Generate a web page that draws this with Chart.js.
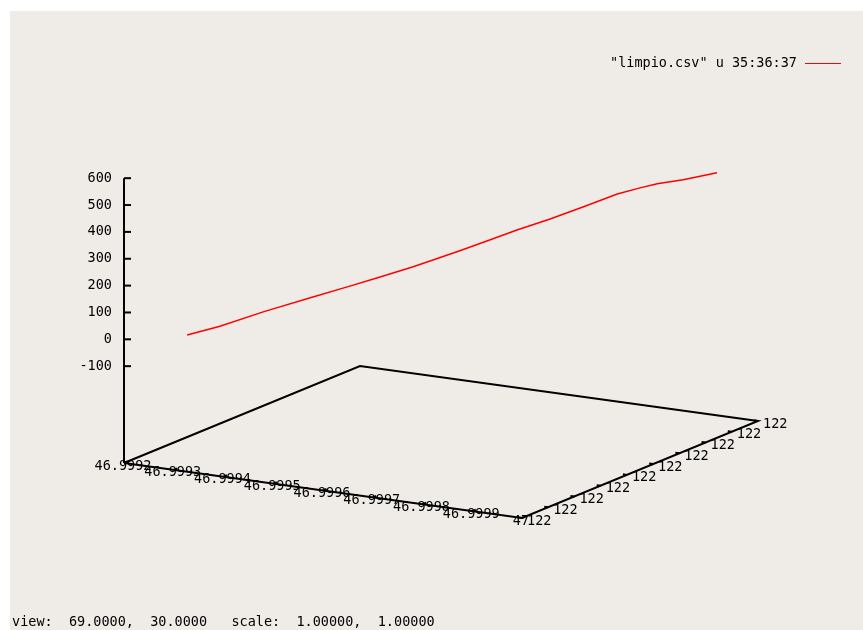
<!DOCTYPE html>
<html>
<head>
<meta charset="utf-8">
<script src="https://cdn.jsdelivr.net/npm/chart.js@4"></script>
<style>
  html, body { margin: 0; padding: 0; background: #ffffff; }
  #wrap { position: relative; width: 863px; height: 630px; }
</style>
</head>
<body>
<div id="wrap"><canvas id="trackChart"></canvas></div>
<script>
// track (columns 35:36:37 of limpio.csv)
const latitudes = [46.9992015, 46.9992511, 46.9993158, 46.9993910, 46.9994422, 46.9994918, 46.9995415, 46.9996106,
    46.9996543, 46.9996979, 46.9997476, 46.9997972, 46.9998484, 46.9998830, 46.9999086, 46.9999477, 46.9999988];
const longitudes = [121.9999838, 121.9999869, 121.9999911, 121.9999958, 121.9999992, 122.0000023, 122.0000055,
    122.0000099, 122.0000127, 122.0000154, 122.0000186, 122.0000217, 122.0000251, 122.0000272, 122.0000289,
    122.0000314, 122.0000346];
const altitudes = [-79, -46, 7, 63, 100, 137, 175, 234, 273, 312, 353, 398, 446, 469, 484, 499, 525];

// tick values
const latTicks = [46.9992, 46.9993, 46.9994, 46.9995, 46.9996, 46.9997, 46.9998, 46.9999, 47.0000];
const lonTicks = [121.99996, 121.99997, 121.99998, 121.99999, 122.00000, 122.00001, 122.00002, 122.00003, 122.00004, 122.00005];
const altTicks = [-100, 0, 100, 200, 300, 400, 500, 600];

const legendLabel = '"limpio.csv" u 35:36:37';
const statusLabel = 'view:  69.0000,  30.0000   scale:  1.00000,  1.00000';

// simple parallel projection for view 69,30
const view = { ox: 124, oy: 463, ex: [398, 55], ey: [236, -97], zHeight: 188, ticslevel: 0.515 };
const latRange = [latTicks[0], latTicks[latTicks.length - 1]];
const lonRange = [lonTicks[0], lonTicks[lonTicks.length - 1]];
const altRange = [altTicks[0], altTicks[altTicks.length - 1]];
const altBase = altRange[0] - view.ticslevel * (altRange[1] - altRange[0]);

const project = (lat, lon, alt) => {
    const u = (lat - latRange[0]) / (latRange[1] - latRange[0]);
    const v = (lon - lonRange[0]) / (lonRange[1] - lonRange[0]);
    const w = (alt - altBase) / (altRange[1] - altRange[0]);
    return {
        x: view.ox + u * view.ex[0] + v * view.ey[0],
        y: view.oy + u * view.ex[1] + v * view.ey[1] - w * view.zHeight
    };
};

const fmtG = (v) => String(Number(v.toPrecision(6)));

const trackPoints = latitudes.map((lat, i) => project(lat, longitudes[i], altitudes[i]));
const basePoints = [
    project(latRange[0], lonRange[0], altBase),
    project(latRange[1], lonRange[0], altBase),
    project(latRange[1], lonRange[1], altBase),
    project(latRange[0], lonRange[1], altBase),
    project(latRange[0], lonRange[0], altBase)
];
const zAxisPoints = [
    project(latRange[0], lonRange[0], altBase),
    project(latRange[0], lonRange[0], altRange[1])
];

const FONT = '13.5px "DejaVu Sans Mono", monospace';

const gnuplotDecor = {
    id: 'gnuplotDecor',
    beforeDraw(chart) {
        const ctx = chart.ctx;
        ctx.save();
        ctx.fillStyle = '#ffffff';
        ctx.fillRect(0, 0, chart.width, chart.height);
        ctx.fillStyle = '#efece8';
        ctx.fillRect(10, 11, chart.width - 10, chart.height - 11);
        ctx.restore();
    },
    afterDatasetsDraw(chart) {
        const ctx = chart.ctx;
        const sx = chart.scales.x, sy = chart.scales.y;
        const px = (p) => ({ x: sx.getPixelForValue(p.x), y: sy.getPixelForValue(p.y) });
        const seg = (a, b) => {
            ctx.beginPath();
            ctx.moveTo(a.x, a.y);
            ctx.lineTo(b.x, b.y);
            ctx.stroke();
        };
        ctx.save();
        ctx.strokeStyle = '#000000';
        ctx.fillStyle = '#000000';
        ctx.lineWidth = 2;
        ctx.font = FONT;

        // latitude tics along front-left edge
        const lonTicLen = 0.015 * (lonRange[1] - lonRange[0]);
        ctx.textAlign = 'center';
        ctx.textBaseline = 'middle';
        latTicks.forEach(t => {
            const a = px(project(t, lonRange[0], altBase));
            const b = px(project(t, lonRange[0] + lonTicLen, altBase));
            seg(a, b);
            ctx.fillText(fmtG(t), a.x - 1, a.y + 3);
        });

        // longitude tics along front-right edge
        const latTicLen = 0.01 * (latRange[1] - latRange[0]);
        ctx.textAlign = 'left';
        lonTicks.forEach(t => {
            const a = px(project(latRange[1], t, altBase));
            const b = px(project(latRange[1] - latTicLen, t, altBase));
            seg(a, b);
            ctx.fillText(fmtG(t), a.x + 5, a.y + 3);
        });

        // altitude tics
        ctx.textAlign = 'right';
        altTicks.forEach(t => {
            const a = px(project(latRange[0], lonRange[0], t));
            seg(a, { x: a.x + 7, y: a.y });
            ctx.fillText(fmtG(t), a.x - 12, a.y);
        });

        // key
        ctx.textAlign = 'right';
        ctx.fillText(legendLabel, 797, 63);
        ctx.strokeStyle = '#ff0000';
        ctx.lineWidth = 1;
        seg({ x: 805, y: 63.5 }, { x: 841, y: 63.5 });

        // status line
        ctx.textAlign = 'left';
        ctx.fillText(statusLabel, 12, 622);
        ctx.restore();
    }
};

const ctxTrack = document.getElementById('trackChart').getContext('2d');
const trackChart = new Chart(ctxTrack, {
    type: 'scatter',
    data: {
        datasets: [{
            label: legendLabel,
            data: trackPoints,
            showLine: true,
            borderColor: '#ff0000',
            borderWidth: 1.5,
            pointRadius: 0,
            tension: 0
        }, {
            label: 'base',
            data: basePoints,
            showLine: true,
            borderColor: '#000000',
            borderWidth: 2,
            pointRadius: 0
        }, {
            label: 'zaxis',
            data: zAxisPoints,
            showLine: true,
            borderColor: '#000000',
            borderWidth: 2,
            pointRadius: 0
        }]
    },
    options: {
        responsive: true,
        maintainAspectRatio: false,
        animation: false,
        events: [],
        layout: { padding: 0 },
        plugins: {
            legend: { display: false },
            tooltip: { enabled: false }
        },
        scales: {
            x: { type: 'linear', min: 0, max: 863, display: false },
            y: { type: 'linear', min: 0, max: 630, reverse: true, display: false }
        }
    },
    plugins: [gnuplotDecor]
});
</script>
</body>
</html>
